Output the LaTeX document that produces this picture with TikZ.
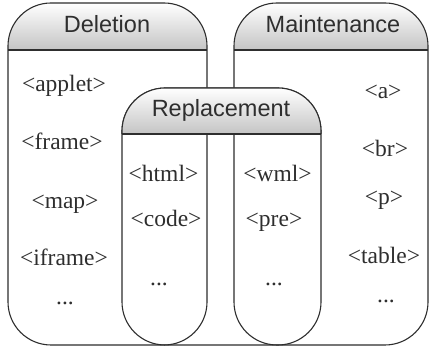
\documentclass[tikz,border=0pt]{standalone}
\usepackage{fontspec}
\setmainfont{Liberation Serif}
\setsansfont{Liberation Sans}
\definecolor{ink}{HTML}{2E2E2E}
\definecolor{hdr}{HTML}{C4C4C4}
\begin{document}
\begin{tikzpicture}[x=1pt,y=1pt,
  outline/.style={draw=ink, line width=1.1pt},
  hshade/.style={top color=white, bottom color=hdr},
  title/.style={font=\sffamily\fontsize{23.5}{24}\selectfont, text=ink, anchor=base, inner sep=0pt},
  tag/.style={font=\fontsize{23.5}{24}\selectfont, text=ink, anchor=base, inner sep=0pt}]
\useasboundingbox (0,0) rectangle (432,347);
\fill[white] (0,0) rectangle (432,347);
% Deletion
\begin{scope}
  \clip[rounded corners=43pt] (8,2) rectangle (207,344);
  \shade[hshade] (8,297) rectangle (207,344);
\end{scope}
\draw[outline, rounded corners=43pt] (8,2) rectangle (207,344);
\draw[outline] (8,297) -- (207,297);
% Maintenance
\begin{scope}
  \clip[rounded corners=43pt] (234,2) rectangle (428,344);
  \shade[hshade] (234,297) rectangle (428,344);
\end{scope}
\draw[outline, rounded corners=43pt] (234,2) rectangle (428,344);
\draw[outline] (234,297) -- (428,297);
% Replacement
\draw[outline, rounded corners=43pt] (122,2) rectangle (321,259);
\begin{scope}
  \clip[rounded corners=43pt] (122,2) rectangle (321,259);
  \fill[white] (122,213) rectangle (321,259);
  \shade[hshade] (122,213) rectangle (321,259);
\end{scope}
\begin{scope}
  \clip (100,213) rectangle (340,265);
  \draw[outline, rounded corners=43pt] (122,2) rectangle (321,259);
\end{scope}
\draw[outline] (122,213) -- (321,213);
% titles
\node[title] (tdel) at (107,314) {Deletion};
\node[title] (tmai) at (333,314) {Maintenance};
\node[title] (trep) at (221,230) {Replacement};
% deletion tags
\node[tag] (applet) at (64,255) {\textless applet\textgreater};
\node[tag] (frame) at (62,197) {\textless frame\textgreater};
\node[tag] (map) at (65,138) {\textless map\textgreater};
\node[tag] (iframe) at (64,81) {\textless iframe\textgreater};
\node[tag] (ddots) at (65,42) {...};
% replacement tags
\node[tag] (html) at (163.5,165) {\textless html\textgreater};
\node[tag] (code) at (166,120) {\textless code\textgreater};
\node[tag] (rdots1) at (159,61) {...};
\node[tag] (wml) at (277.5,165) {\textless wml\textgreater};
\node[tag] (pre) at (274,120) {\textless pre\textgreater};
\node[tag] (rdots2) at (274,61) {...};
% maintenance tags
\node[tag] (a) at (383,248) {\textless a\textgreater};
\node[tag] (br) at (385,190) {\textless br\textgreater};
\node[tag] (p) at (384,142) {\textless p\textgreater};
\node[tag] (table) at (384,83) {\textless table\textgreater};
\node[tag] (mdots) at (386,44) {...};
\end{tikzpicture}
\end{document}
